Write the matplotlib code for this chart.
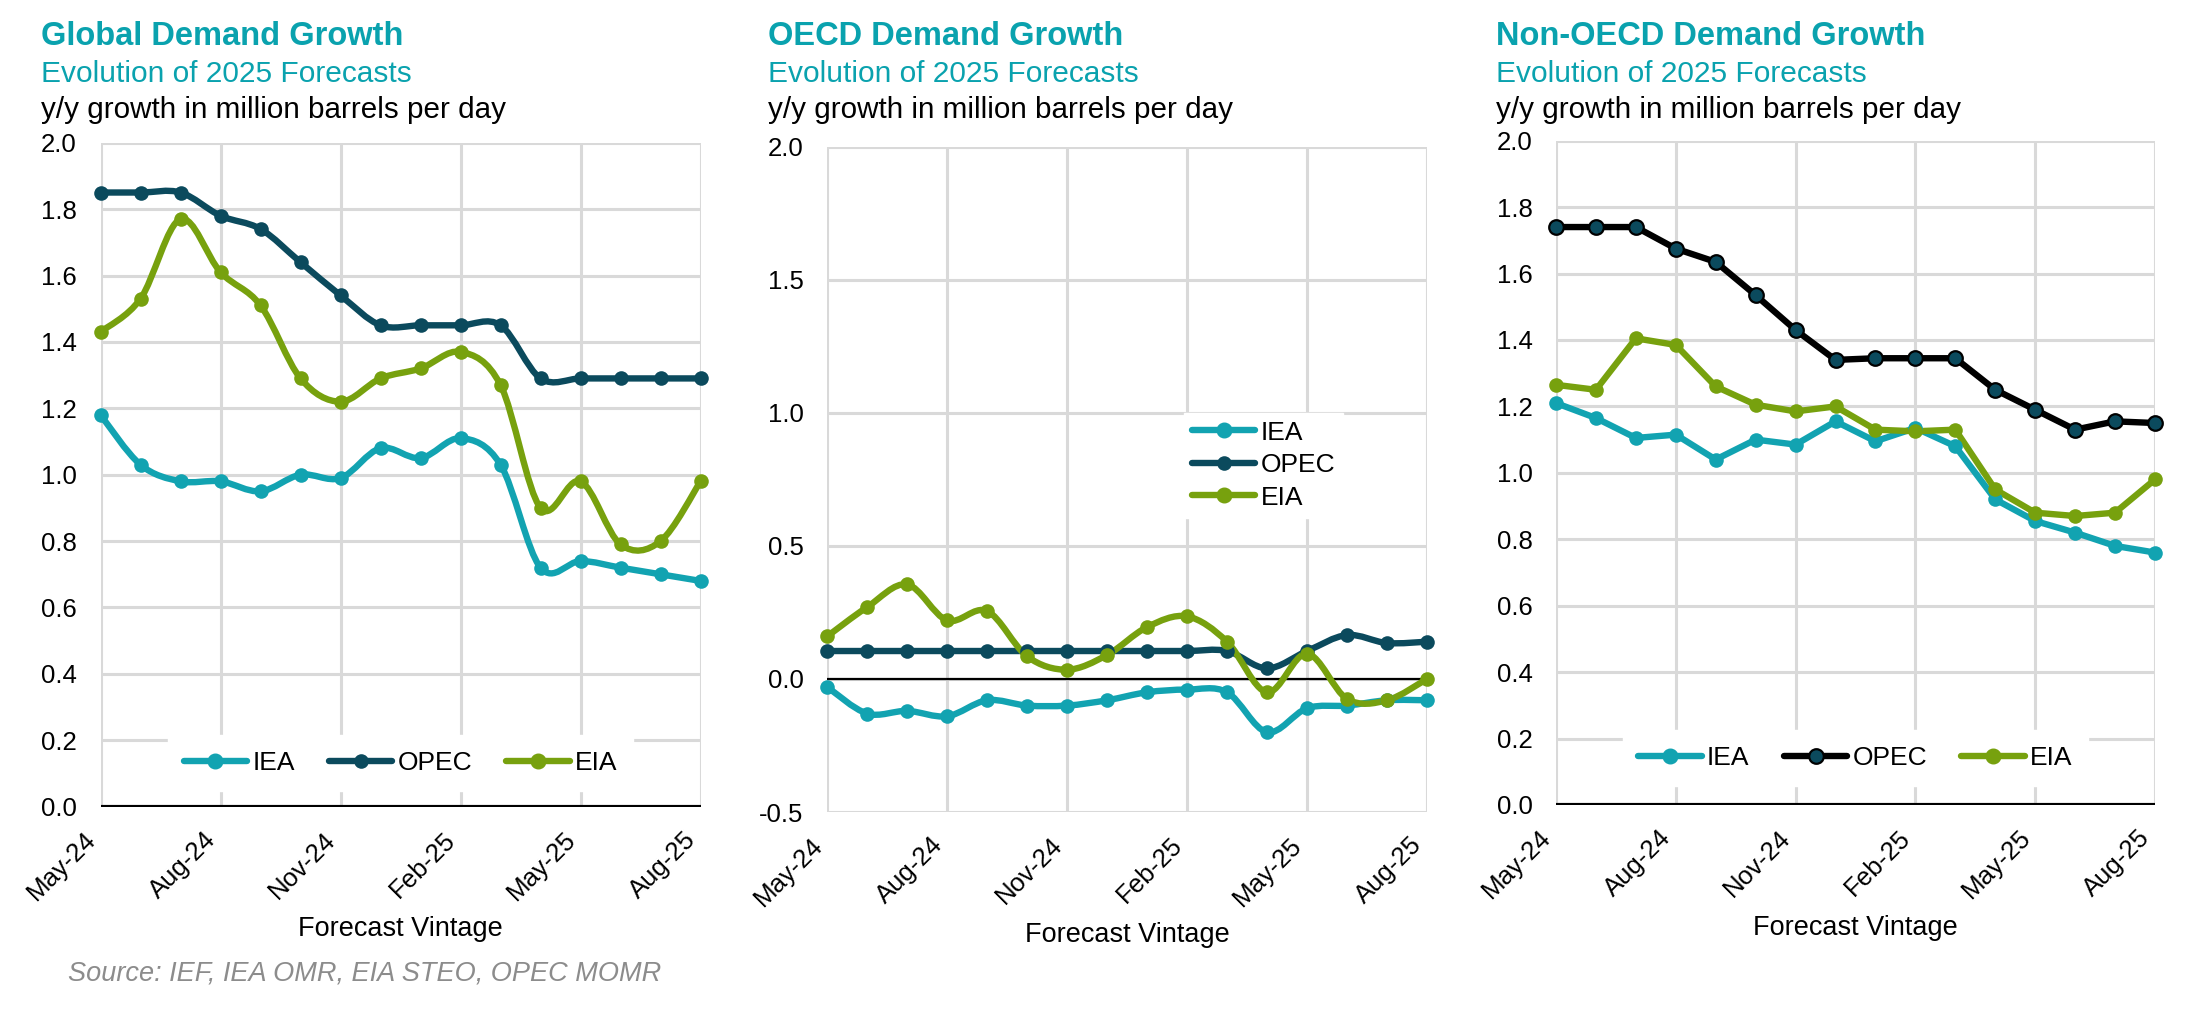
import matplotlib
matplotlib.use("Agg")
import matplotlib.pyplot as plt
from matplotlib.path import Path
from matplotlib.patches import PathPatch
from matplotlib.lines import Line2D
import numpy as np

plt.rcParams['font.family'] = ['Liberation Sans', 'DejaVu Sans']

months = ['May-24', 'Jun-24', 'Jul-24', 'Aug-24', 'Sep-24', 'Oct-24', 'Nov-24', 'Dec-24',
          'Jan-25', 'Feb-25', 'Mar-25', 'Apr-25', 'May-25', 'Jun-25', 'Jul-25', 'Aug-25']
tick_labels = ['May-24', 'Aug-24', 'Nov-24', 'Feb-25', 'May-25', 'Aug-25']

# global
global_iea = [1.18, 1.03, 0.98, 0.98, 0.95, 1.00, 0.99, 1.08, 1.05, 1.11, 1.03, 0.72, 0.74, 0.72, 0.70, 0.68]
global_opec = [1.85, 1.85, 1.85, 1.78, 1.74, 1.64, 1.54, 1.45, 1.45, 1.45, 1.45, 1.29, 1.29, 1.29, 1.29, 1.29]
global_eia = [1.43, 1.53, 1.77, 1.61, 1.51, 1.29, 1.22, 1.29, 1.32, 1.37, 1.27, 0.90, 0.98, 0.79, 0.80, 0.98]

# oecd
oecd_iea = [-0.03, -0.13, -0.12, -0.14, -0.08, -0.10, -0.10, -0.08, -0.05, -0.04, -0.05, -0.20, -0.11, -0.10, -0.08, -0.08]
oecd_opec = [0.105, 0.105, 0.105, 0.105, 0.105, 0.105, 0.105, 0.105, 0.105, 0.105, 0.105, 0.04, 0.105, 0.165, 0.135, 0.14]
oecd_eia = [0.16, 0.27, 0.355, 0.22, 0.255, 0.085, 0.035, 0.09, 0.195, 0.235, 0.14, -0.05, 0.095, -0.075, -0.08, 0.0]

# non-oecd
non_iea = [1.21, 1.165, 1.105, 1.115, 1.04, 1.10, 1.085, 1.155, 1.095, 1.135, 1.08, 0.92, 0.855, 0.82, 0.78, 0.76]
non_opec = [1.74, 1.74, 1.74, 1.675, 1.635, 1.535, 1.43, 1.34, 1.345, 1.345, 1.345, 1.25, 1.19, 1.13, 1.155, 1.15]
non_eia = [1.265, 1.25, 1.405, 1.385, 1.26, 1.205, 1.185, 1.20, 1.13, 1.125, 1.13, 0.95, 0.88, 0.87, 0.88, 0.98]

IEA_C = '#12A3B1'
OPEC_C = '#0B4A5D'
EIA_C = '#77A10E'
TEAL = '#0AA2AE'
GRID_C = '#D9D9D9'
LW = 4.6
MS = 10.5


def smooth_path(x, y):
    # excel style smoothed line (bezier through the points)
    n = len(x)
    verts = [(x[0], y[0])]
    codes = [Path.MOVETO]
    for i in range(n - 1):
        xa, ya = (x[i - 1], y[i - 1]) if i > 0 else (x[i], y[i])
        xb, yb = (x[i + 2], y[i + 2]) if i + 2 < n else (x[i + 1], y[i + 1])
        c1 = (x[i] + (x[i + 1] - xa) / 6, y[i] + (y[i + 1] - ya) / 6)
        c2 = (x[i + 1] - (xb - x[i]) / 6, y[i + 1] - (yb - y[i]) / 6)
        verts += [c1, c2, (x[i + 1], y[i + 1])]
        codes += [Path.CURVE4] * 3
    return Path(verts, codes)


def draw_series(ax, y, color, smooth=True, line_color=None, edge=None):
    x = np.arange(len(y))
    lc = line_color or color
    if smooth:
        ax.add_patch(PathPatch(smooth_path(x, y), facecolor='none', edgecolor=lc, lw=LW,
                               capstyle='round', joinstyle='round', clip_on=False, zorder=3))
    else:
        ax.plot(x, y, '-', color=lc, lw=LW, solid_joinstyle='round', clip_on=False, zorder=3)
    ax.plot(x, y, 'o', color=color, ms=MS, mec=edge or color, mew=1.6 if edge else 0,
            clip_on=False, zorder=4)


def setup(ax, ymin, ymax, step):
    ax.set_xlim(0, 15)
    ax.set_ylim(ymin, ymax)
    ax.set_xticks(range(0, 16, 3))
    ax.set_xticklabels(tick_labels, rotation=45, ha='right', fontsize=18.5)
    yt = np.round(np.arange(ymin, ymax + step / 2, step), 2)
    ax.set_yticks(yt)
    ax.set_yticklabels([f'{v:.1f}' for v in yt], fontsize=18.5)
    ax.tick_params(length=0)
    ax.tick_params(axis='y', pad=17)
    ax.tick_params(axis='x', pad=15)
    for s in ax.spines.values():
        s.set_visible(False)
    ax.grid(True, color=GRID_C, lw=2.2, zorder=0)
    ax.set_axisbelow(True)
    ax.set_xlabel('Forecast Vintage', fontsize=19.5, labelpad=8)


def handles(opec_line=None, opec_edge=None):
    h = [Line2D([], [], color=IEA_C, lw=LW, marker='o', ms=MS, solid_capstyle='round'),
         Line2D([], [], color=opec_line or OPEC_C, lw=LW, marker='o', ms=MS, mfc=OPEC_C,
                mec=opec_edge or OPEC_C, mew=1.6 if opec_edge else 0, solid_capstyle='round'),
         Line2D([], [], color=EIA_C, lw=LW, marker='o', ms=MS, solid_capstyle='round')]
    return h


fig = plt.figure(figsize=(21.9, 10.1), dpi=100)

titles = ['Global Demand Growth', 'OECD Demand Growth', 'Non-OECD Demand Growth']
title_x = [0.0188, 0.3507, 0.683]
for t, tx in zip(titles, title_x):
    fig.text(tx, 0.9554, t, fontsize=23.5, fontweight='bold', color=TEAL, va='baseline')
    fig.text(tx, 0.919, 'Evolution of 2025 Forecasts', fontsize=21.5, color=TEAL, va='baseline')
    fig.text(tx, 0.883, 'y/y growth in million barrels per day', fontsize=21.3, color='black',
             va='baseline')

# panel 1
ax1 = fig.add_axes([0.0459, 0.2013, 0.274, 0.6574])
setup(ax1, 0.0, 2.0, 0.2)
draw_series(ax1, global_iea, IEA_C)
draw_series(ax1, global_opec, OPEC_C)
draw_series(ax1, global_eia, EIA_C)
ax1.axhline(0, color='black', lw=3, zorder=2)
ax1.legend(handles(), ['IEA', 'OPEC', 'EIA'], loc='center', bbox_to_anchor=(0.5, 0.066),
           ncol=3, fontsize=19, frameon=True, framealpha=1, edgecolor='white',
           fancybox=False, handlelength=2.4, handletextpad=0.2, columnspacing=1.3,
           borderpad=0.6, borderaxespad=0)

# panel 2
ax2 = fig.add_axes([0.3777, 0.196, 0.2739, 0.6588])
setup(ax2, -0.5, 2.0, 0.5)
ax2.axhline(0, color='black', lw=1.6, zorder=2)
draw_series(ax2, oecd_iea, IEA_C)
draw_series(ax2, oecd_opec, OPEC_C)
draw_series(ax2, oecd_eia, EIA_C)
ax2.legend(handles(), ['IEA', 'OPEC', 'EIA'], loc='upper left', bbox_to_anchor=(0.595, 0.6),
           ncol=1, fontsize=19, frameon=True, framealpha=1, edgecolor='white', fancybox=False,
           handlelength=2.4, handletextpad=0.2, labelspacing=0.32, borderpad=0.3,
           borderaxespad=0)

# panel 3
ax3 = fig.add_axes([0.7105, 0.203, 0.2735, 0.6577])
setup(ax3, 0.0, 2.0, 0.2)
draw_series(ax3, non_iea, IEA_C, smooth=False)
draw_series(ax3, non_opec, OPEC_C, smooth=False, line_color='black', edge='black')
draw_series(ax3, non_eia, EIA_C, smooth=False)
ax3.axhline(0, color='black', lw=3, zorder=2)
ax3.legend(handles('black', 'black'), ['IEA', 'OPEC', 'EIA'], loc='center',
           bbox_to_anchor=(0.5, 0.071), ncol=3, fontsize=19, frameon=True, framealpha=1,
           edgecolor='white', fancybox=False, handlelength=2.4, handletextpad=0.2,
           columnspacing=1.3, borderpad=0.6, borderaxespad=0)

fig.text(0.031, 0.0297, 'Source: IEF, IEA OMR, EIA STEO, OPEC MOMR', fontsize=19.5,
         style='italic', color='#8C8C8C', va='baseline')

fig.savefig('out.png', dpi=100)
